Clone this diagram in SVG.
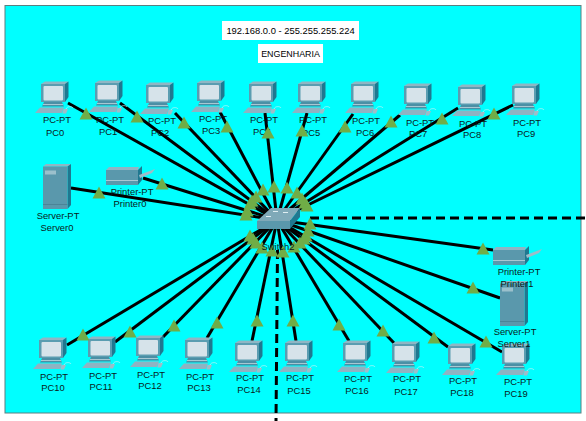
<svg xmlns="http://www.w3.org/2000/svg" width="586" height="421" viewBox="0 0 586 421">
<style>
text{font-family:"Liberation Sans",Arial,sans-serif;font-size:9.4px;fill:#0a1a1a;text-anchor:middle}
.note{font-size:9.4px;fill:#000}
#links line{stroke:#000;stroke-width:3}
#links line.cut{stroke-width:3;stroke-dasharray:9 5}
</style>
<defs>
<polygon id="tri" points="0,-6.500 6.500,5.500 -6.500,5.500" fill="#70ad47"/>
<g id="pc">
<polygon points="0,1 4,-1.500 27.500,-1.500 24,1" fill="#8fb6c4"/>
<polygon points="24,1 27.500,-1.500 27.500,14 24,19" fill="#1f7890"/>
<rect x="0" y="1" width="24" height="18" fill="#5a9db1"/>
<rect x="2.500" y="3" width="19.500" height="14.500" rx="1" fill="#d6e3ea"/>
<polygon points="3,19 21,19 23,23.500 1,23.500" fill="#4b8fa5"/>
<rect x="2" y="21" width="20" height="1" fill="#a9c8d3"/>
<polygon points="-1,24.500 23,24.500 21,30 -6,30" fill="#8fb3c2"/>
<polygon points="22.500,26 27,26 25,30.500 21.500,30.500" fill="#9fbcc8"/>
<path d="M25,26C26,23 31,23 32,25" fill="none" stroke="#c8f2f5" stroke-width=".7"/>
</g>
<g id="server">
<polygon points="0,2.500 3,0 28,0 24.500,2.500" fill="#8fb6c4"/>
<polygon points="24.500,2.500 28,0 28,41 24.500,45" fill="#1f7890"/>
<rect x="0" y="2.500" width="24.500" height="42.500" fill="#5a98ac"/>
<rect x="2" y="6.500" width="11" height="4" fill="#9bc0cc"/>
<rect x="0" y="40" width="24.500" height="1" fill="#4b8497"/>
</g>
<g id="printer">
<polygon points="0,4 3,1 33,1 32,4" fill="#8fb6c4"/>
<polygon points="32,4 36,0 36,14 32,19" fill="#1f7890"/>
<rect x="0" y="4" width="32" height="15" fill="#5a98ac"/>
<rect x="0" y="14" width="32" height="1" fill="#a9c8d3"/>
<polygon points="33,9 49,3 46,7 34,12" fill="#9fbcc8"/>
</g>
</defs>
<rect width="586" height="421" fill="#fff"/>
<rect x="5" y="5.500" width="576" height="407.500" fill="#0ff" stroke="#5c7f80" stroke-width="1"/>
<g id="links">
<line x1="68" y1="103" x2="277" y2="220"/><line x1="120" y1="103" x2="277" y2="220"/>
<line x1="175" y1="113" x2="277" y2="220"/><line x1="220" y1="112" x2="277" y2="220"/>
<line x1="265" y1="113" x2="277" y2="220"/><line x1="307" y1="113" x2="277" y2="220"/>
<line x1="353" y1="114" x2="277" y2="220"/><line x1="400" y1="115" x2="277" y2="220"/>
<line x1="458" y1="108" x2="277" y2="220"/><line x1="513" y1="105" x2="277" y2="220"/>
<line x1="143" y1="178" x2="277" y2="220"/><line x1="71" y1="188" x2="277" y2="220"/>
<line x1="493" y1="250" x2="277" y2="220"/><line x1="500" y1="298" x2="277" y2="220"/>
<line x1="502" y1="352" x2="277" y2="220"/><line x1="448" y1="347" x2="277" y2="220"/>
<line x1="394" y1="343" x2="277" y2="220"/><line x1="349" y1="341" x2="277" y2="220"/>
<line x1="296" y1="341" x2="277" y2="220"/><line x1="252" y1="341" x2="277" y2="220"/>
<line x1="207" y1="338" x2="277" y2="220"/><line x1="163" y1="337" x2="277" y2="220"/>
<line x1="115" y1="342" x2="277" y2="220"/><line x1="67" y1="345" x2="277" y2="220"/>
<line class="cut" x1="310" y1="218" x2="586" y2="218"/>
<line class="cut" x1="277.500" y1="250" x2="276" y2="421"/>
</g>
<g id="server0"><use href="#server" x="43" y="164"/><text x="58" y="219">Server-PT</text><text x="57" y="231">Server0</text></g>
<g id="printer0"><use href="#printer" x="106" y="166"/><text x="132" y="195">Printer-PT</text><text x="130" y="207">Printer0</text></g>
<g id="server1"><use href="#server" x="500" y="281"/></g>
<g id="printer1"><use href="#printer" x="493" y="246"/><text x="519" y="275">Printer-PT</text><text x="517" y="287">Printer1</text></g>
<g id="pc0"><use href="#pc" x="41" y="83"/><text x="57" y="123">PC-PT</text><text x="55" y="136">PC0</text></g>
<g id="pc1"><use href="#pc" x="95" y="82"/><text x="110" y="123">PC-PT</text><text x="108" y="135">PC1</text></g>
<g id="pc2"><use href="#pc" x="146" y="84"/><text x="162" y="124">PC-PT</text><text x="160" y="136">PC2</text></g>
<g id="pc3"><use href="#pc" x="197" y="82"/><text x="213" y="122">PC-PT</text><text x="211" y="134">PC3</text></g>
<g id="pc4"><use href="#pc" x="249" y="83"/><text x="264" y="123">PC-PT</text><text x="262" y="135">PC4</text></g>
<g id="pc5"><use href="#pc" x="298" y="83"/><text x="313" y="123">PC-PT</text><text x="311" y="136">PC5</text></g>
<g id="pc6"><use href="#pc" x="351" y="83"/><text x="366" y="124">PC-PT</text><text x="365" y="136">PC6</text></g>
<g id="pc7"><use href="#pc" x="404" y="85"/><text x="420" y="126">PC-PT</text><text x="418" y="137">PC7</text></g>
<g id="pc8"><use href="#pc" x="458" y="86"/><text x="473" y="127">PC-PT</text><text x="472" y="138">PC8</text></g>
<g id="pc9"><use href="#pc" x="512" y="85"/><text x="527" y="126">PC-PT</text><text x="526" y="137">PC9</text></g>
<g id="pc10"><use href="#pc" x="39" y="339"/><text x="54" y="380">PC-PT</text><text x="53" y="391">PC10</text></g>
<g id="pc11"><use href="#pc" x="88" y="338"/><text x="103" y="379">PC-PT</text><text x="101" y="390">PC11</text></g>
<g id="pc12"><use href="#pc" x="136" y="337"/><text x="151" y="378">PC-PT</text><text x="150" y="389">PC12</text></g>
<g id="pc13"><use href="#pc" x="185" y="339"/><text x="200" y="380">PC-PT</text><text x="199" y="391">PC13</text></g>
<g id="pc14"><use href="#pc" x="235" y="342"/><text x="250" y="381">PC-PT</text><text x="249" y="393">PC14</text></g>
<g id="pc15"><use href="#pc" x="285" y="342"/><text x="300" y="381">PC-PT</text><text x="299" y="394">PC15</text></g>
<g id="pc16"><use href="#pc" x="343" y="342"/><text x="358" y="382">PC-PT</text><text x="357" y="394">PC16</text></g>
<g id="pc17"><use href="#pc" x="392" y="343"/><text x="407" y="382">PC-PT</text><text x="406" y="395">PC17</text></g>
<g id="pc18"><use href="#pc" x="448" y="345"/><text x="463" y="384">PC-PT</text><text x="462" y="396">PC18</text></g>
<g id="pc19"><use href="#pc" x="502" y="345"/><text x="518" y="385">PC-PT</text><text x="516" y="397">PC19</text></g>
<g id="server1-label"><text x="515" y="335">Server-PT</text><text x="514" y="347">Server1</text></g>
<g id="link-lights">
<use href="#tri" x="86" y="114"/><use href="#tri" x="137" y="117"/><use href="#tri" x="184" y="123"/><use href="#tri" x="227" y="127"/><use href="#tri" x="268" y="133"/><use href="#tri" x="302" y="131"/><use href="#tri" x="345" y="127"/><use href="#tri" x="391" y="122"/><use href="#tri" x="442" y="119"/><use href="#tri" x="494" y="114"/>
<use href="#tri" x="162" y="184"/><use href="#tri" x="99" y="193"/><use href="#tri" x="483" y="249"/><use href="#tri" x="473" y="288"/><use href="#tri" x="486" y="342"/><use href="#tri" x="434" y="338"/><use href="#tri" x="383" y="331"/><use href="#tri" x="339" y="325"/><use href="#tri" x="293" y="321"/><use href="#tri" x="257" y="321"/><use href="#tri" x="217" y="323"/><use href="#tri" x="174" y="326"/><use href="#tri" x="130" y="332"/><use href="#tri" x="83" y="335"/>
<use href="#tri" x="250" y="204"/><use href="#tri" x="252" y="201"/><use href="#tri" x="256" y="197"/><use href="#tri" x="263" y="190"/><use href="#tri" x="274" y="187"/><use href="#tri" x="287" y="188"/><use href="#tri" x="297" y="193"/><use href="#tri" x="302" y="199"/><use href="#tri" x="305" y="203"/><use href="#tri" x="307" y="206"/><use href="#tri" x="247" y="211"/><use href="#tri" x="246" y="215"/><use href="#tri" x="310" y="224"/><use href="#tri" x="308" y="231"/><use href="#tri" x="306" y="236"/><use href="#tri" x="304" y="239"/><use href="#tri" x="300" y="243"/><use href="#tri" x="294" y="247"/><use href="#tri" x="283" y="252"/><use href="#tri" x="272" y="251"/><use href="#tri" x="262" y="248"/><use href="#tri" x="256" y="243"/><use href="#tri" x="253" y="239"/><use href="#tri" x="250" y="236"/>
</g>
<g id="switch2">
<polygon points="257,221 271,208 300,208 290,221" fill="#7fa9b8"/>
<polygon points="290,221 300,208 300,217 290,229" fill="#1f7890"/>
<rect x="257" y="221" width="33" height="8" fill="#5a98ac"/>
<g fill="#dfeef2"><rect x="273" y="211" width="5" height="1"/><rect x="283" y="212" width="5" height="1"/><rect x="266" y="216" width="5" height="1"/></g>
<text x="278" y="250">Switch2</text>
</g>
<g id="note-subnet"><rect x="222" y="21" width="137" height="19" fill="#fff"/><text class="note" x="290.500" y="34">192.168.0.0 - 255.255.255.224</text></g>
<g id="note-dept"><rect x="258" y="44" width="65" height="19" fill="#fff"/><text class="note" x="290.500" y="57" style="font-size:8.900px">ENGENHARIA</text></g>
</svg>
